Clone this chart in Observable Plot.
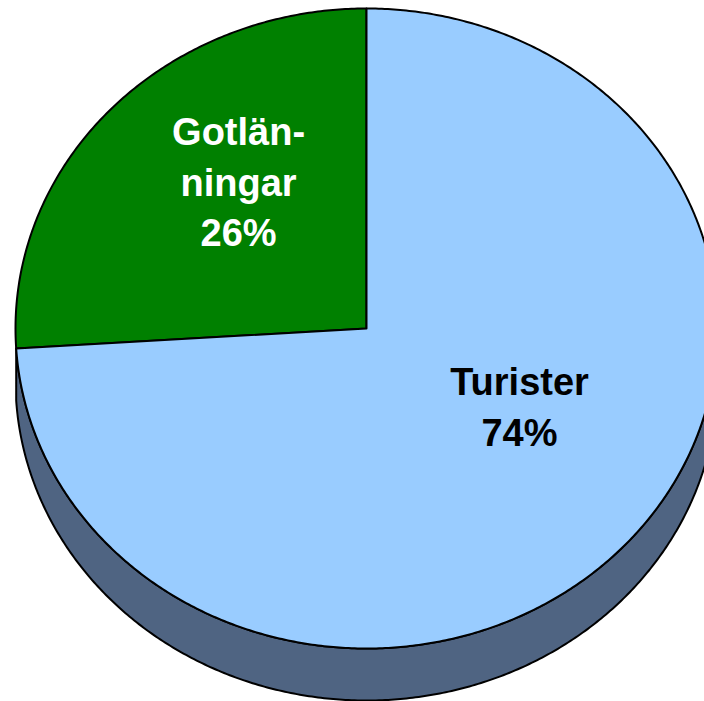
<!DOCTYPE html>
<html>
<head>
<meta charset="utf-8">
<script src="https://cdn.jsdelivr.net/npm/d3@7"></script>
<script src="https://cdn.jsdelivr.net/npm/@observablehq/plot@0.6"></script>
<style>
  html, body { margin: 0; padding: 0; background: #fff; overflow: hidden; }
  #chart svg { display: block; }
</style>
</head>
<body>
<div id="chart"></div>
<script>
// Data
const categories = ["Gotlänningar", "Turister"];
const values = [26, 74];
const labels = ["Gotlän-\nningar\n26%", "Turister\n74%"];
const colors = ["#008000", "#99CCFF"];
const labelColors = ["#ffffff", "#000000"];
const sideColor = "#4F6482";

// Layout (pixels)
const W = 704, H = 701;
const cx = 366, cy = 328, rx = 351, ry = 320, depthPx = 52;
const depth = depthPx / ry;

const total = d3.sum(values);
const rad = a => a * Math.PI / 180;
const pt = (a, r = 1, dy = 0) => ({ x: r * Math.cos(rad(a)), y: r * Math.sin(rad(a)) - dy });

// slices: first starts at top (90deg) going counterclockwise
let start = 90;
const slices = values.map((v, i) => {
  const sweep = v / total * 360;
  const s = { i, a0: start, a1: start + sweep };
  start += sweep;
  return s;
});

function arcPts(a0, a1, dy = 0, step = 0.5) {
  const n = Math.max(2, Math.ceil(Math.abs(a1 - a0) / step));
  const pts = [];
  for (let k = 0; k <= n; k++) pts.push(pt(a0 + (a1 - a0) * k / n, 1, dy));
  return pts;
}

const marks = [];
// side wall (visible lower half, from end of first slice to 360deg)
const wallStart = slices[0].a1;
const wall = [...arcPts(wallStart, 360), ...arcPts(360, wallStart, depth)];
wall.push(wall[0]);
marks.push(Plot.line(wall, { x: "x", y: "y", fill: sideColor, stroke: "black", strokeWidth: 2, strokeLinejoin: "round", clip: true }));

// top faces
slices.forEach(s => {
  const poly = [{ x: 0, y: 0 }, ...arcPts(s.a0, s.a1), { x: 0, y: 0 }];
  marks.push(Plot.line(poly, { x: "x", y: "y", fill: colors[s.i], stroke: "black", strokeWidth: 2, strokeLinejoin: "round", clip: true }));
});

// labels
const labelOffset = [{ da: -8.8, r: 0.592 }, { da: 14.6, r: 0.4965 }];
const labelData = slices.map(s => {
  const mid = (s.a0 + s.a1) / 2;
  const p = pt(mid + labelOffset[s.i].da, labelOffset[s.i].r);
  return { x: p.x, y: p.y, text: labels[s.i], color: labelColors[s.i] };
});
labelData.forEach(d => {
  marks.push(Plot.text([d], {
    x: "x", y: "y", text: "text", fill: d.color,
    fontSize: 38, fontWeight: "bold", fontFamily: "Liberation Sans, Arial, sans-serif",
    lineHeight: 1.34, textAnchor: "middle"
  }));
});

const chart = Plot.plot({
  width: W, height: H,
  margin: 0,
  x: { domain: [(0 - cx) / rx, (W - cx) / rx], axis: null },
  y: { domain: [(cy - H) / ry, cy / ry], axis: null },
  style: { background: "white", overflow: "hidden" },
  marks
});
document.getElementById("chart").appendChild(chart);
</script>
</body>
</html>
